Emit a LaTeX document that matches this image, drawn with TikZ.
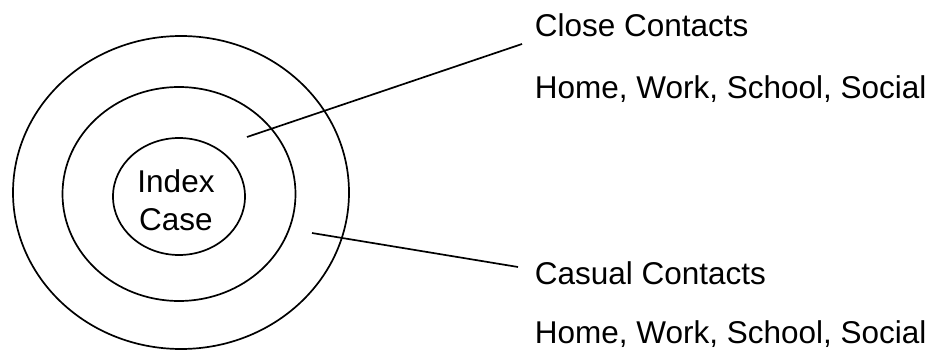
\documentclass[tikz,border=0pt]{standalone}
\usepackage{fontspec}
\setmainfont{Liberation Sans}
\usetikzlibrary{positioning, shapes.geometric, calc}

\begin{document}
\begin{tikzpicture}[x=1pt, y=-1pt, line width=1.7pt,
    ring/.style={draw, ellipse, inner sep=0pt},
    label/.style={font=\fontsize{31.5}{38}\selectfont, inner sep=0pt, anchor=base west}]
        \useasboundingbox (0,0) rectangle (940,350);
        % the three rings
        \node[ring, minimum width=336pt, minimum height=313pt] (outer) at (181,192.5) {};
        \node[ring, minimum width=233pt, minimum height=214pt] (middle) at (179,194) {};
        \node[ring, minimum width=132pt, minimum height=117pt] (inner) at (179,196.5) {};
        \node[font=\fontsize{31.5}{38}\selectfont, align=center, inner sep=0pt] (idx) at (176,200.5)
          {Index\\Case};
        % texts on the right
        \node[label] (close) at (534,37) {Close Contacts};
        \node[label] (closeplaces) at (534,99) {Home, Work, School, Social};
        \node[label] (casual) at (534,284) {Casual Contacts};
        \node[label] (casualplaces) at (534,343) {Home, Work, School, Social};
        % pointers
        \coordinate (closein) at (247,137);
        \coordinate (closetip) at (522,44);
        \coordinate (casualin) at (312,233);
        \coordinate (casualtip) at (518,267);
        \draw (closein) -- (closetip);
        \draw (casualin) -- (casualtip);
      \end{tikzpicture}
\end{document}
